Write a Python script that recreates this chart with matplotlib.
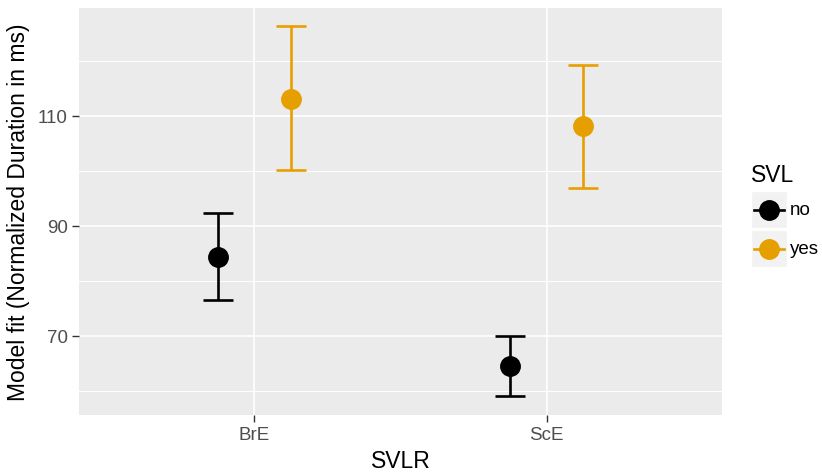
import numpy as np
import matplotlib.pyplot as plt
from matplotlib.lines import Line2D
from matplotlib.patches import Rectangle
from matplotlib.ticker import MultipleLocator

# data
regions = ["BrE", "ScE"]
svl_levels = ["no", "yes"]
fit_no = [84.4, 64.5]
lower_no = [76.6, 59.0]
upper_no = [92.3, 70.0]
fit_yes = [113.1, 108.2]
lower_yes = [100.1, 96.9]
upper_yes = [126.4, 119.3]

colours = {"no": "#000000", "yes": "#E69F00"}

plt.rcParams["font.family"] = ["Liberation Sans", "DejaVu Sans"]

W, H = 822, 477
fig = plt.figure(figsize=(W / 100, H / 100), dpi=100)
ax = fig.add_axes([79 / W, 1 - 416 / H, (722 - 79) / W, (416 - 9) / H])
ax.set_facecolor("#EBEBEB")
for s in ax.spines.values():
    s.set_visible(False)

x = np.arange(1, len(regions) + 1)
dodge = 0.125
series = [("no", fit_no, lower_no, upper_no, -dodge),
          ("yes", fit_yes, lower_yes, upper_yes, dodge)]
for lvl, fit, lo, hi, off in series:
    fit = np.array(fit)
    err = [fit - np.array(lo), np.array(hi) - fit]
    ax.errorbar(x + off, fit, yerr=err, fmt="o", color=colours[lvl],
                ms=14, elinewidth=1.9, capsize=10.8, capthick=1.9, zorder=3)

ax.set_xlim(0.4, 2.6)
ax.set_ylim(55.6, 129.6)
ax.set_xticks(x)
ax.set_xticklabels(regions)
ax.yaxis.set_minor_locator(MultipleLocator(10))
ax.set_yticks([70, 90, 110])
ax.grid(which="major", color="white", lw=1.2)
ax.grid(which="minor", axis="y", color="white", lw=0.7)
ax.set_axisbelow(True)
ax.tick_params(which="major", length=5, width=1, color="#333333",
               labelsize=13.5, labelcolor="#4D4D4D", pad=3)
ax.tick_params(which="minor", length=0)

ax.set_xlabel("SVLR", fontsize=16.5, labelpad=4)
ax.set_ylabel("Model fit (Normalized Duration in ms)", fontsize=16.5, labelpad=6)

# legend drawn ggplot-style
fig.text(751 / W, 1 - 175 / H, "SVL", fontsize=16.5, va="center", ha="left")
for i, lvl in enumerate(svl_levels):
    top = 192 + i * 39
    fig.patches.append(Rectangle((751 / W, 1 - (top + 37) / H), 36 / W, 37 / H,
                                 transform=fig.transFigure, facecolor="#F2F2F2",
                                 edgecolor="white", lw=1))
    yc = 1 - (top + 18.5) / H
    fig.lines.append(Line2D([754 / W, 784 / W], [yc, yc], transform=fig.transFigure,
                            color=colours[lvl], lw=1.9))
    fig.lines.append(Line2D([769 / W], [yc], transform=fig.transFigure,
                            marker="o", ms=14, color=colours[lvl]))
    fig.text(790 / W, yc, lvl, fontsize=13.5, va="center", ha="left")

fig.savefig("out.png", dpi=100)
